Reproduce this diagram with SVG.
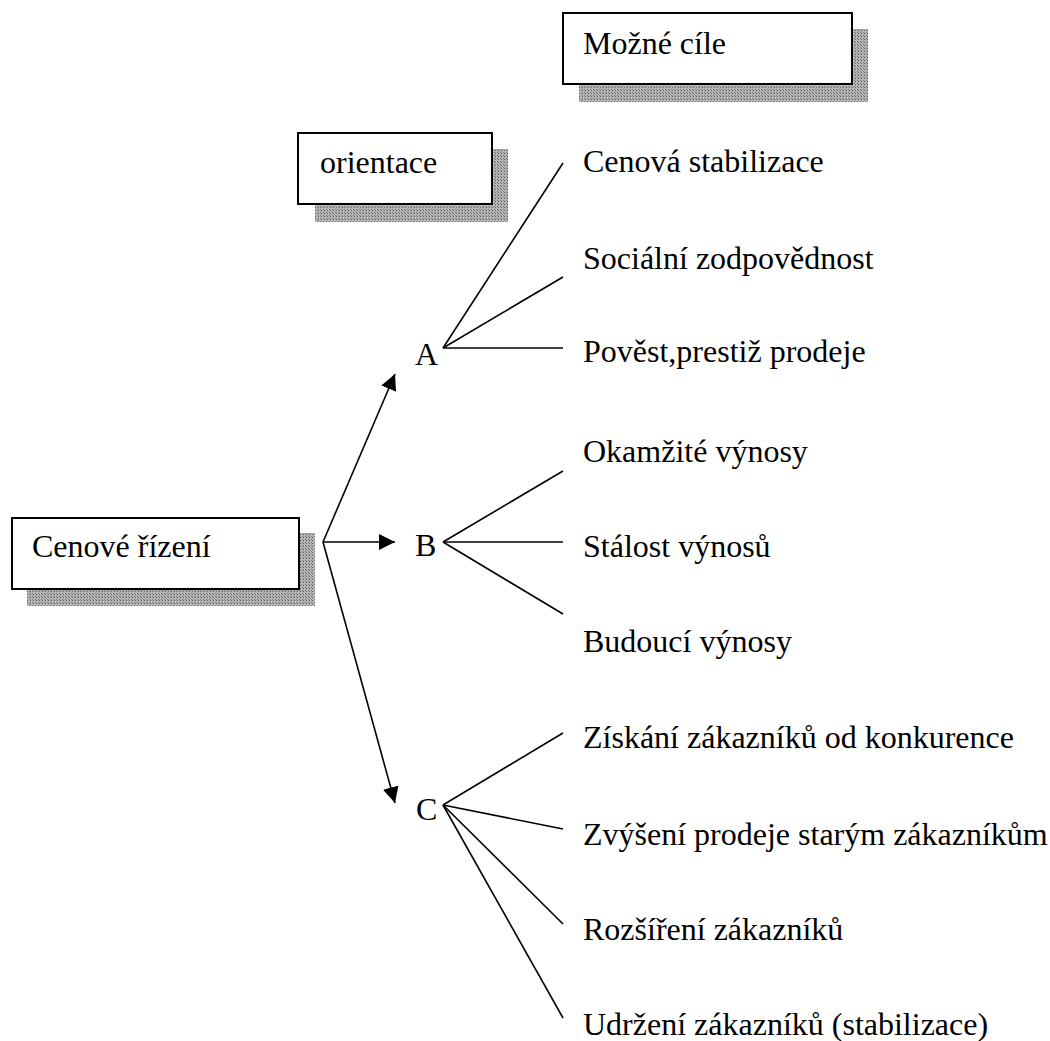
<svg xmlns="http://www.w3.org/2000/svg" width="1050" height="1041" viewBox="0 0 1050 1041">
<style>
text{font-family:"Liberation Serif","Times New Roman",serif;font-size:32px;fill:#000}
.box{fill:#fff;stroke:#000;stroke-width:2}
.sh{fill:url(#dots)}
.ln{stroke:#000;stroke-width:1.6;fill:none}
</style>
<defs>
<pattern id="dots" width="3" height="3" patternUnits="userSpaceOnUse">
<rect width="3" height="3" fill="#b4b4b4"/>
<rect width="1" height="1" fill="#5a5a5a"/>
<rect x="2" y="2" width="1" height="1" fill="#7a7a7a"/>
</pattern>
<marker id="arr" viewBox="0 0 10 10" refX="10" refY="5" markerWidth="16" markerHeight="16" markerUnits="userSpaceOnUse" orient="auto">
<path d="M0,0 L10,5 L0,10 z" fill="#000"/>
</marker>
</defs>
<g id="node-mozne-cile">
<rect class="sh" x="579" y="29" width="289" height="73"/>
<rect class="box" x="563" y="13" width="289" height="71"/>
<text x="583" y="54">Možné cíle</text>
</g>
<g id="node-orientace">
<rect class="sh" x="315" y="149" width="193" height="73"/>
<rect class="box" x="298" y="133" width="194" height="71"/>
<text x="320" y="173">orientace</text>
</g>
<g id="node-cenove-rizeni">
<rect class="sh" x="27" y="533" width="288" height="73"/>
<rect class="box" x="12" y="518" width="287" height="71"/>
<text x="32" y="557">Cenové řízení</text>
</g>
<g id="node-A"><text x="415" y="365">A</text></g>
<g id="node-B"><text x="415" y="556">B</text></g>
<g id="node-C"><text x="416" y="820">C</text></g>
<g id="goals">
<text x="583" y="172">Cenová stabilizace</text>
<text x="583" y="269">Sociální zodpovědnost</text>
<text x="583" y="362">Pověst,prestiž prodeje</text>
<text x="583" y="462">Okamžité výnosy</text>
<text x="583" y="557">Stálost výnosů</text>
<text x="583" y="652">Budoucí výnosy</text>
<text x="583" y="748">Získání zákazníků od konkurence</text>
<text x="583" y="845">Zvýšení prodeje starým zákazníkům</text>
<text x="583" y="940">Rozšíření zákazníků</text>
<text x="583" y="1035">Udržení zákazníků (stabilizace)</text>
</g>
<g id="connectors">
<line class="ln" x1="323" y1="542" x2="395" y2="374" marker-end="url(#arr)"/>
<line class="ln" x1="323" y1="542" x2="395" y2="542" marker-end="url(#arr)"/>
<line class="ln" x1="323" y1="542" x2="395" y2="803" marker-end="url(#arr)"/>
<line class="ln" x1="443" y1="348" x2="563" y2="163"/>
<line class="ln" x1="443" y1="348" x2="563" y2="277"/>
<line class="ln" x1="443" y1="348" x2="563" y2="348"/>
<line class="ln" x1="443" y1="542" x2="563" y2="471"/>
<line class="ln" x1="443" y1="542" x2="563" y2="542"/>
<line class="ln" x1="443" y1="542" x2="563" y2="614"/>
<line class="ln" x1="443" y1="805" x2="563" y2="733"/>
<line class="ln" x1="443" y1="805" x2="563" y2="829"/>
<line class="ln" x1="443" y1="805" x2="563" y2="924"/>
<line class="ln" x1="443" y1="805" x2="563" y2="1018"/>
</g>
</svg>
